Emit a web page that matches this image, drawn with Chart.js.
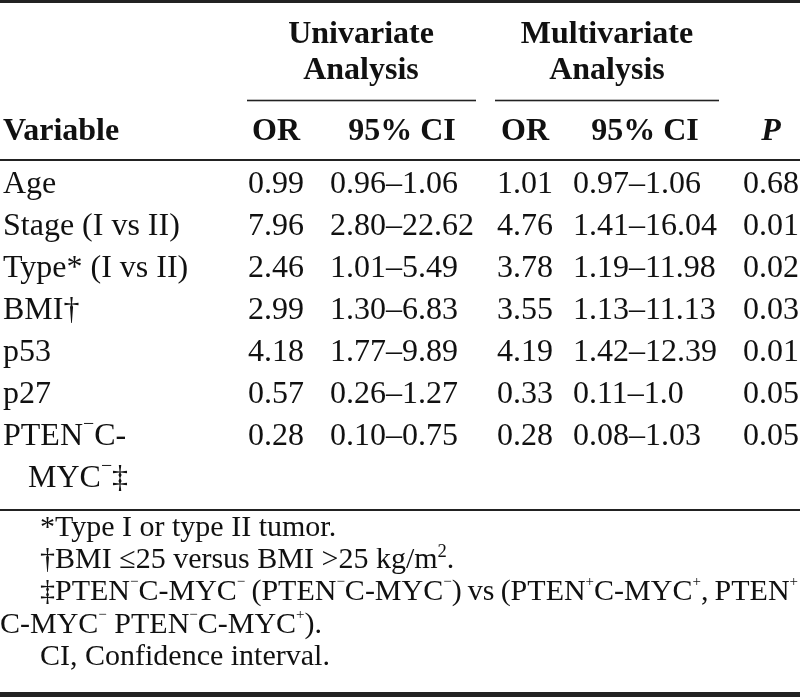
<!DOCTYPE html>
<html><head><meta charset="utf-8">
<script src="https://cdn.jsdelivr.net/npm/chart.js@4.4.1/dist/chart.umd.min.js"></script>
<style>html,body{margin:0;padding:0;background:#fff}canvas{display:block}</style>
</head><body>
<canvas id="c" width="800" height="697"></canvas>
<script>
// ---------- DATA ----------
const variables = ["Age","Stage (I vs II)","Type* (I vs II)","BMI†","p53","p27","PTEN{-}C-MYC{-}‡"];
const uniOR   = ["0.99","7.96","2.46","2.99","4.18","0.57","0.28"];
const uniCI   = ["0.96–1.06","2.80–22.62","1.01–5.49","1.30–6.83","1.77–9.89","0.26–1.27","0.10–0.75"];
const multiOR = ["1.01","4.76","3.78","3.55","4.19","0.33","0.28"];
const multiCI = ["0.97–1.06","1.41–16.04","1.19–11.98","1.13–11.13","1.42–12.39","0.11–1.0","0.08–1.03"];
const pValues = ["0.68","0.01","0.02","0.03","0.01","0.05","0.05"];
const groupHeaders = [["Univariate","Analysis"],["Multivariate","Analysis"]];
const columnHeaders = ["Variable","OR","95% CI","OR","95% CI","P"];
const footnotes = [
  ["*Type I or type II tumor."],
  ["†BMI ≤25 versus BMI >25 kg/m{2}."],
  ["‡PTEN{-}C-MYC{-} (PTEN{-}C-MYC{-}) vs (PTEN{+}C-MYC{+}, PTEN{+}", "C-MYC{-} PTEN{-}C-MYC{+})."],
  ["CI, Confidence interval."]
];

// ---------- LAYOUT ----------
const FONT = '"Liberation Serif","Times New Roman",serif';
const L = {
  bodySize: 32, noteSize: 30,
  colLeft: [3, 248, 330, 497, 573, 743],
  groupBase: [43, 79], underlineY: 100.5,
  headBase: 140, headRule: 160,
  rowBase0: 193, rowStep: 42,
  bodyRule: 510,
  noteBase0: 536, noteStep: 32.2, noteIndent: 40, noteRight: 798,
  wrapWidth: 205, hangIndent: 25,
  bodySup: 0.62, noteSup: 0.5, digitSup: 0.62,
  ink: '#111', rule: '#222'
};

function parseRich(s){
  const out=[]; const re=/\{([^}]*)\}/g; let last=0, m;
  while((m=re.exec(s))){
    if(m.index>last) out.push({t:s.slice(last,m.index), sup:false});
    out.push({t: m[1]==='-' ? '−' : m[1], sup:true, kind:m[1]});
    last=re.lastIndex;
  }
  if(last<s.length) out.push({t:s.slice(last), sup:false});
  return out;
}
const fontStr=(style,size)=>`${style} ${size}px ${FONT}`;
const supSize=(r,size,supScale)=> r.kind==='2' ? size*L.digitSup : size*supScale;
function runsWidth(ctx, runs, size, style, supScale){
  let w=0;
  for(const r of runs){ ctx.font=fontStr(style, r.sup?supSize(r,size,supScale):size); w+=ctx.measureText(r.t).width; }
  return w;
}
function countSpaces(runs){ let n=0; runs.forEach(r=>{ if(!r.sup) n+=(r.t.match(/ /g)||[]).length; }); return n; }
function drawRuns(ctx, runs, x, y, size, style, extra, supScale){
  let cx=x;
  for(const r of runs){
    const fs=r.sup?supSize(r,size,supScale):size;
    ctx.font=fontStr(style,fs);
    const dy=r.sup ? (r.kind==='2'? size*0.36 : size*0.47) : 0;
    if(extra && !r.sup){
      const parts=r.t.split(' ');
      parts.forEach((p,i)=>{
        ctx.fillText(p,cx,y-dy); cx+=ctx.measureText(p).width;
        if(i<parts.length-1) cx+=ctx.measureText(' ').width+extra;
      });
    } else { ctx.fillText(r.t,cx,y-dy); cx+=ctx.measureText(r.t).width; }
  }
  return cx-x;
}
function wrapVariable(ctx, s){
  const runs=parseRich(s);
  if(runsWidth(ctx,runs,L.bodySize,'normal',L.bodySup)<=L.wrapWidth) return [s];
  for(let i=s.length-1;i>0;i--){
    if(s[i]==='-' && s[i-1]!=='{' && s[i+1]!=='}'){
      const a=s.slice(0,i+1), b=s.slice(i+1);
      if(runsWidth(ctx,parseRich(a),L.bodySize,'normal',L.bodySup)<=L.wrapWidth) return [a,b];
    }
  }
  return [s];
}

const tablePlugin = {
  id:'tablePlugin',
  beforeDraw(chart){
    const c=chart.ctx; c.save(); c.fillStyle='#fff'; c.fillRect(0,0,chart.width,chart.height); c.restore();
  },
  afterDraw(chart){
    const ctx=chart.ctx, sx=chart.scales.x, sy=chart.scales.y;
    const X=v=>sx.getPixelForValue(v), Y=v=>sy.getPixelForValue(v);
    ctx.save();
    ctx.textBaseline='alphabetic'; ctx.textAlign='left';
    const rule=(x0,x1,yv,th)=>{ ctx.fillStyle=L.rule; ctx.fillRect(X(x0),Y(yv)-th/2,X(x1)-X(x0),th); };

    const cols=[variables,uniOR,uniCI,multiOR,multiCI,pValues];
    const colW=cols.map((arr,ci)=>{
      if(ci===0) return 0;
      ctx.font=fontStr('normal',L.bodySize);
      return Math.max(...arr.map(s=>ctx.measureText(s).width));
    });
    const colRight=L.colLeft.map((l,i)=>l+colW[i]);
    const colMid=L.colLeft.map((l,i)=>l+colW[i]/2);

    rule(0,800,1.5,3);
    rule(0,800,L.headRule,2);
    rule(0,800,L.bodyRule,2);
    rule(0,800,694.5,5);
    rule(L.colLeft[1]-1, colRight[2]+2, L.underlineY, 1.6);
    rule(L.colLeft[3]-2, colRight[4]+2, L.underlineY, 1.6);

    ctx.fillStyle=L.ink;
    const groupMid=[(L.colLeft[1]+colRight[2])/2,(L.colLeft[3]+colRight[4])/2];
    groupHeaders.forEach((g,gi)=>{
      g.forEach((line,li)=>{
        ctx.font=fontStr('bold',L.bodySize);
        const w=ctx.measureText(line).width;
        ctx.fillText(line, X(groupMid[gi])-w/2, Y(L.groupBase[li]));
      });
    });
    columnHeaders.forEach((h,ci)=>{
      const style = ci===5 ? 'italic bold' : 'bold';
      ctx.font=fontStr(style,L.bodySize);
      const w=ctx.measureText(h).width;
      const x = ci===0 ? L.colLeft[0] : colMid[ci]-w/2;
      ctx.fillText(h, X(x), Y(L.headBase));
    });
    let line=0;
    variables.forEach((v,ri)=>{
      const base=L.rowBase0+L.rowStep*line;
      const parts=wrapVariable(ctx,v);
      parts.forEach((p,pi)=>{
        drawRuns(ctx, parseRich(p), X(L.colLeft[0]+(pi?L.hangIndent:0)), Y(base+pi*L.rowStep), L.bodySize, 'normal', 0, L.bodySup);
      });
      ctx.font=fontStr('normal',L.bodySize);
      [uniOR,uniCI,multiOR,multiCI,pValues].forEach((arr,k)=>{
        ctx.fillText(arr[ri], X(L.colLeft[k+1]), Y(base));
      });
      line+=parts.length;
    });
    let nl=0;
    footnotes.forEach(note=>{
      note.forEach((txt,li)=>{
        const runs=parseRich(txt);
        const x0 = li===0 ? L.noteIndent : 0;
        let extra=0;
        if(li<note.length-1){
          const w=runsWidth(ctx,runs,L.noteSize,'normal',L.noteSup), n=countSpaces(runs);
          if(n) extra=(L.noteRight-x0-w)/n;
        }
        drawRuns(ctx, runs, X(x0), Y(L.noteBase0+L.noteStep*nl), L.noteSize, 'normal', extra, L.noteSup);
        nl++;
      });
    });
    ctx.restore();
  }
};

new Chart(document.getElementById('c'), {
  type:'scatter',
  data:{datasets:[{data:[]}]},
  options:{
    responsive:false, animation:false, devicePixelRatio:1,
    layout:{padding:0},
    plugins:{legend:{display:false}, tooltip:{enabled:false}},
    scales:{
      x:{type:'linear',min:0,max:800,display:false},
      y:{type:'linear',min:0,max:697,reverse:true,display:false}
    }
  },
  plugins:[tablePlugin]
});
</script>
</body></html>
